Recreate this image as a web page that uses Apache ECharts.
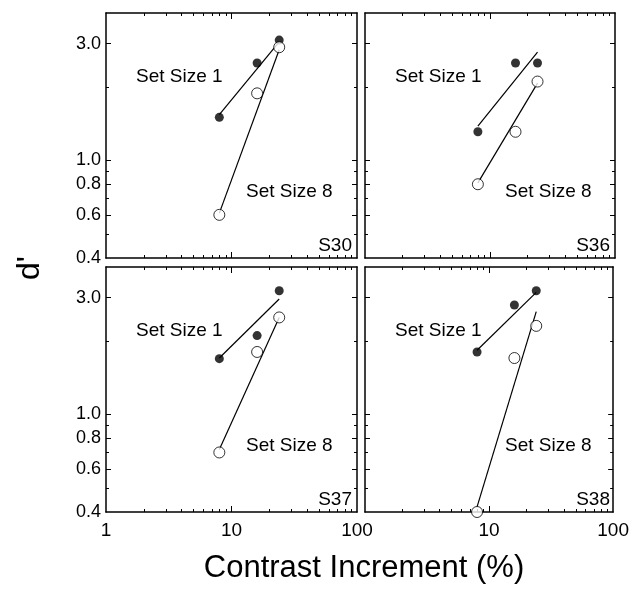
<!DOCTYPE html>
<html><head><meta charset="utf-8">
<script src="https://cdn.jsdelivr.net/npm/echarts@6/dist/echarts.min.js"></script>
<style>html,body{margin:0;padding:0;background:#fff}#c{width:632px;height:589px}</style>
</head><body><div id="c"></div>
<script>
// ---- data ----
const contrast = [8, 16, 24];          // contrast increment (%)
const fitX = [8, 24];                  // extent of fitted lines
const panelNames = ['S30', 'S36', 'S37', 'S38'];
const setSize1 = {
  S30: [1.50, 2.50, 3.10],
  S36: [1.31, 2.50, 2.50],
  S37: [1.69, 2.10, 3.20],
  S38: [1.80, 2.80, 3.20]
};
const setSize8 = {
  S30: [0.60, 1.88, 2.90],
  S36: [0.80, 1.31, 2.10],
  S37: [0.70, 1.80, 2.49],
  S38: [0.40, 1.70, 2.30]
};
const fit1 = {
  S30: [1.54, 3.05],
  S36: [1.38, 2.77],
  S37: [1.70, 2.96],
  S38: [1.83, 3.15]
};
const fit8 = {
  S30: [0.61, 2.83],
  S36: [0.81, 2.07],
  S37: [0.72, 2.49],
  S38: [0.42, 2.63]
};
const xTickMajor = [10];
const xTickMinor = [2, 3, 4, 5, 6, 7, 8, 9, 20, 30, 40, 50, 60, 70, 80, 90];
const yTickMajor = [0.6, 0.8, 1, 3];
const yTickMinor = [0.5, 0.7, 0.9, 2];
const yTickLabels = [0.4, 0.6, 0.8, 1, 3];
const xTickLabelsLeft = [1, 10, 100];
const xTickLabelsRight = [10, 100];

// ---- layout ----
const FONT = '"Liberation Sans", Arial, Helvetica, sans-serif';
const layout = [
  {l: 106, t: 13, w: 251, h: 245, col: 0, row: 0},
  {l: 365, t: 13, w: 250, h: 245, col: 1, row: 0},
  {l: 106, t: 267, w: 251, h: 245, col: 0, row: 1},
  {l: 365, t: 267, w: 250, h: 245, col: 1, row: 1}
];

const grids = [], xAxes = [], yAxes = [], series = [], graphics = [];

layout.forEach((p, i) => {
  const name = panelNames[i];
  grids.push({left: p.l, top: p.t, width: p.w, height: p.h, show: false, containLabel: false});

  const mkX = (pos, ticks, len, line, labels) => ({
    type: 'log', logBase: 10, min: 1, max: 100, gridIndex: i, position: pos,
    axisLine: {show: line, onZero: false, lineStyle: {color: '#000', width: 1.5}},
    axisTick: {show: true, inside: true, length: len, customValues: ticks, lineStyle: {color: '#000', width: 1}},
    axisLabel: labels ? {show: true, customValues: labels, margin: 9, color: '#000', fontSize: 19,
      fontFamily: FONT, formatter: v => String(Math.round(v))} : {show: false},
    splitLine: {show: false}, minorTick: {show: false}, minorSplitLine: {show: false}
  });
  const mkY = (pos, ticks, len, line, labels) => ({
    type: 'log', logBase: 10, min: 0.4, max: 4, gridIndex: i, position: pos,
    axisLine: {show: line, onZero: false, lineStyle: {color: '#000', width: 1.5}},
    axisTick: {show: true, inside: true, length: len, customValues: ticks, lineStyle: {color: '#000', width: 1}},
    axisLabel: labels ? {show: true, customValues: labels, margin: 5, color: '#000', fontSize: 18,
      fontFamily: FONT, formatter: v => Number(v).toFixed(1)} : {show: false},
    splitLine: {show: false}, minorTick: {show: false}, minorSplitLine: {show: false}
  });

  const xBase = xAxes.length, yBase = yAxes.length;
  const xLabels = p.row === 1 ? (p.col === 0 ? xTickLabelsLeft : xTickLabelsRight) : null;
  xAxes.push(mkX('bottom', xTickMajor, 6, true, xLabels));
  xAxes.push(mkX('bottom', xTickMinor, 3, false, null));
  xAxes.push(mkX('top', xTickMajor, 6, true, null));
  xAxes.push(mkX('top', xTickMinor, 3, false, null));
  const yLabels = p.col === 0 ? yTickLabels : null;
  yAxes.push(mkY('left', yTickMajor, 5, true, yLabels));
  yAxes.push(mkY('left', yTickMinor, 3, false, null));
  yAxes.push(mkY('right', yTickMajor, 5, true, null));
  yAxes.push(mkY('right', yTickMinor, 3, false, null));

  const lineBase = {type: 'line', xAxisIndex: xBase, yAxisIndex: yBase, symbol: 'none', showSymbol: false,
    lineStyle: {color: '#000', width: 1.2}, silent: true, clip: false, z: 2};
  series.push(Object.assign({}, lineBase, {data: fitX.map((x, k) => [x, fit1[name][k]])}));
  series.push(Object.assign({}, lineBase, {data: fitX.map((x, k) => [x, fit8[name][k]])}));
  series.push({type: 'scatter', xAxisIndex: xBase, yAxisIndex: yBase, symbol: 'circle', symbolSize: 9,
    itemStyle: {color: '#000'}, clip: false, z: 3,
    data: contrast.map((x, k) => [x, setSize1[name][k]])});
  series.push({type: 'scatter', xAxisIndex: xBase, yAxisIndex: yBase, symbol: 'circle', symbolSize: 11,
    itemStyle: {color: '#fff', borderColor: '#000', borderWidth: 1}, clip: false, z: 4,
    data: contrast.map((x, k) => [x, setSize8[name][k]])});

  graphics.push({type: 'text', x: p.l + 30, y: p.t + 64, z: 10,
    style: {text: 'Set Size 1', fontSize: 19, fontFamily: FONT, fill: '#000', align: 'left', verticalAlign: 'middle'}});
  graphics.push({type: 'text', x: p.l + 140, y: p.t + 179, z: 10,
    style: {text: 'Set Size 8', fontSize: 19, fontFamily: FONT, fill: '#000', align: 'left', verticalAlign: 'middle'}});
  graphics.push({type: 'text', x: p.l + p.w - 5, y: p.t + p.h - 12, z: 10,
    style: {text: name, fontSize: 19, fontFamily: FONT, fill: '#000', align: 'right', verticalAlign: 'middle'}});
});

graphics.push({type: 'text', x: 364, y: 568, z: 10,
  style: {text: 'Contrast Increment (%)', fontSize: 31, fontFamily: FONT, fill: '#000', align: 'center', verticalAlign: 'middle'}});
graphics.push({type: 'text', x: 30, y: 268, rotation: Math.PI / 2, z: 10,
  style: {text: "d'", fontSize: 32, fontFamily: FONT, fill: '#000', align: 'center', verticalAlign: 'middle'}});

const chart = echarts.init(document.getElementById('c'), null, {renderer: 'canvas'});
chart.setOption({
  animation: false,
  backgroundColor: '#fff',
  grid: grids,
  xAxis: xAxes,
  yAxis: yAxes,
  series: series,
  graphic: graphics
});
</script>
</body></html>
